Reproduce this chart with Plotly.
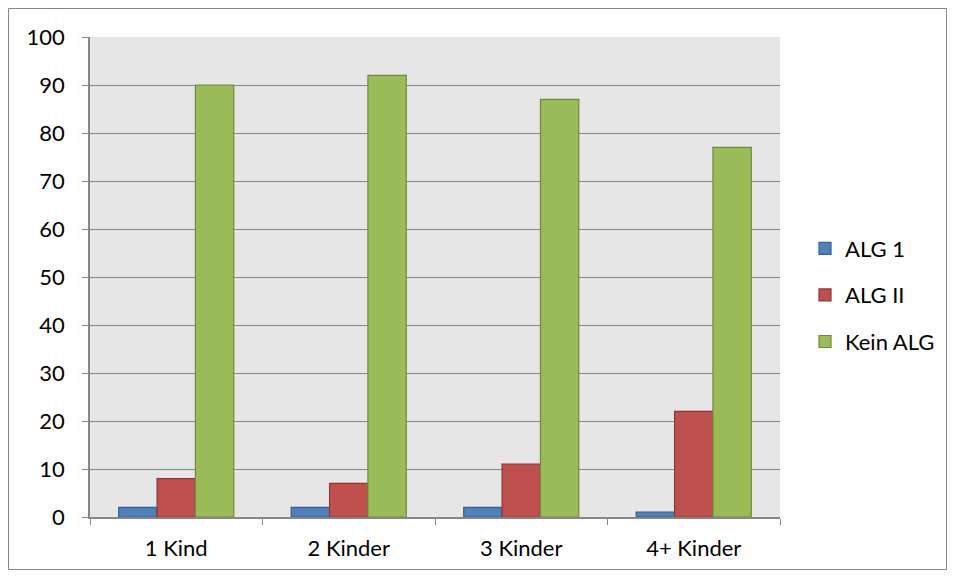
import plotly.graph_objects as go

categories = ["1 Kind", "2 Kinder", "3 Kinder", "4+ Kinder"]
alg1 = [2, 2, 2, 1]
alg2 = [8, 7, 11, 22]
kein_alg = [90, 92, 87, 77]
y_ticks = [0, 10, 20, 30, 40, 50, 60, 70, 80, 90, 100]

series = [
    ("ALG 1", alg1, "#4F81BD", "#385D8A"),
    ("ALG II", alg2, "#C0504D", "#8C3836"),
    ("Kein ALG", kein_alg, "#9BBB59", "#71893F"),
]

fig = go.Figure()
for name, vals, fill, line in series:
    fig.add_trace(go.Bar(
        x=categories, y=vals, name=name, legendgroup=name,
        marker=dict(color=fill, line=dict(color=line, width=1.2)),
    ))

font = dict(family="Lato, Open Sans, sans-serif", size=22, color="#000000")
W, H = 939, 562
# page body has an 8px margin; compensate so the plot area lands at 90..780 x 37..517
fig.update_layout(
    width=W, height=H,
    margin=dict(l=82, r=167, t=29, b=53, autoexpand=False),
    paper_bgcolor="white",
    plot_bgcolor="#E6E6E6",
    barmode="group",
    bargap=0.333,
    bargroupgap=0,
    font=font,
    showlegend=True,
    legend=dict(
        xref="container", yref="container",
        x=797 / W, y=1 - 287 / H, xanchor="left", yanchor="middle",
        font=font,
        tracegroupgap=15, itemwidth=30,
        bgcolor="rgba(0,0,0,0)",
    ),
    xaxis=dict(
        type="category", automargin=False,
        showgrid=False,
        showline=True, linecolor="#868686", linewidth=1.5,
        ticks="outside", tickson="boundaries", ticklen=6, tickcolor="#868686",
        tickfont=font, ticklabelstandoff=11,
    ),
    yaxis=dict(
        range=[0, 100], automargin=False,
        tickvals=y_ticks,
        showgrid=True, gridcolor="#868686", gridwidth=1.2,
        showline=True, linecolor="#868686", linewidth=1.5,
        ticks="outside", ticklen=6, tickcolor="#868686",
        tickfont=font, ticklabelstandoff=13,
        zeroline=False,
    ),
    shapes=[dict(
        type="rect", xref="paper", yref="paper",
        x0=-81.5/690, x1=856.5/690, y0=-52.5/480, y1=508.5/480,
        line=dict(color="#868686", width=1), fillcolor="rgba(0,0,0,0)",
        layer="below",
    )],
)

fig.write_html("out.html")
